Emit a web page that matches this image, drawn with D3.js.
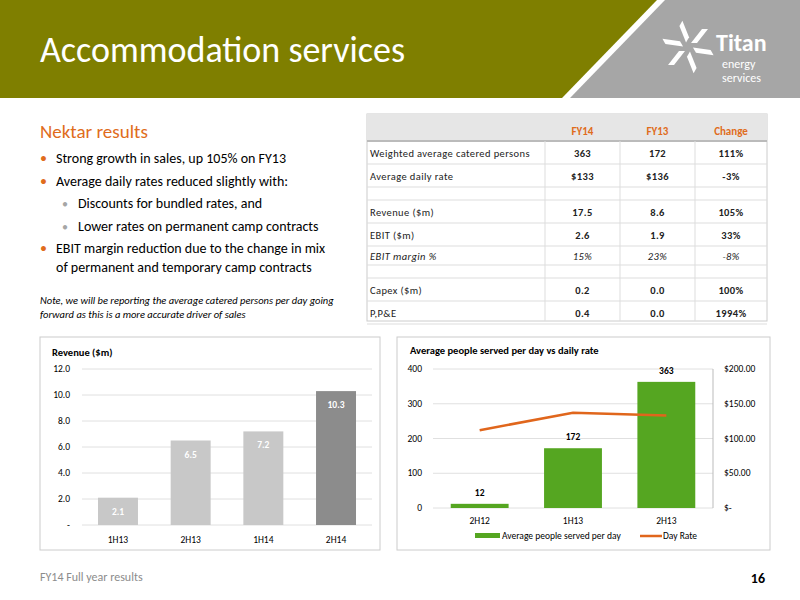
<!DOCTYPE html><html><head><meta charset="utf-8">
<script src="https://cdn.jsdelivr.net/npm/d3@7"></script>
<style>body{margin:0;}svg{display:block;font-family:Calibri,Carlito,"Open Sans",sans-serif;}</style></head><body>
<script>
const revCats=["1H13","2H13","1H14","2H14"];
const revVals=[2.1,6.5,7.2,10.3];
const revTicks=[0,2,4,6,8,10,12];
const pplCats=["2H12","1H13","2H13"];
const pplVals=[12,172,363];
const rateVals=[112,137,133];
const tblHead=["FY14","FY13","Change"];
const tblRows=[["Weighted average catered persons","363","172","111%"],["Average daily rate","$133","$136","-3%"],["","","",""],["Revenue ($m)","17.5","8.6","105%"],["EBIT ($m)","2.6","1.9","33%"],["EBIT margin %","15%","23%","-8%"],["","","",""],["Capex ($m)","0.2","0.0","100%"],["P,P&E","0.4","0.0","1994%"]];
const bullets=[[0,"Strong growth in sales, up 105% on FY13"],[0,"Average daily rates reduced slightly with:"],[1,"Discounts for bundled rates, and"],[1,"Lower rates on permanent camp contracts"],[0,"EBIT margin reduction due to the change in mix"],[2,"of permanent and temporary camp contracts"]];

const svg=d3.select("body").append("svg").attr("width",800).attr("height",600);
svg.append("rect").attr("width",800).attr("height",600).attr("fill","#fff");
svg.append("rect").attr("width",800).attr("height",98).attr("fill","#a6a6a6");
svg.append("path").attr("d","M0,0H665L570,98H0Z").attr("fill","#fff");
svg.append("path").attr("d","M0,0H657L562,98H0Z").attr("fill","#7f7f00");
svg.append("text").attr("x",40).attr("y",62).attr("fill","#fff").attr("font-size",36).text("Accommodation services");
const lg=svg.append("g").attr("transform","translate(688,47)").attr("fill","#fff");
for(let i=0;i<6;i++)lg.append("path").attr("d","M3,-4L14,-18L20,-18L9,-4Z").attr("transform",`rotate(${i*60})`);
svg.append("text").attr("x",716).attr("y",51).attr("fill","#fff").attr("font-size",24).attr("font-weight","bold").text("Titan");
svg.append("text").attr("x",722).attr("y",68).attr("fill","#fff").attr("font-size",12).text("energy");
svg.append("text").attr("x",722).attr("y",82).attr("fill","#fff").attr("font-size",12).text("services");
svg.append("text").attr("x",40).attr("y",138).attr("fill","#e06c1c").attr("font-size",19).text("Nektar results");
bullets.forEach((b,i)=>{const y=163+i*22.5;const t=b[0];
 if(t==0)svg.append("text").attr("x",40).attr("y",y).attr("fill","#e06c1c").attr("font-size",14).text("•");
 if(t==1)svg.append("text").attr("x",62).attr("y",y).attr("fill","#a6a6a6").attr("font-size",12).text("•");
 svg.append("text").attr("x",t==1?78:56).attr("y",t==2?y-4:y).attr("fill","#000").attr("font-size",14).text(b[1]);});
svg.append("text").attr("x",40).attr("y",304).attr("font-size",10.5).attr("font-style","italic").text("Note, we will be reporting the average catered persons per day going");
svg.append("text").attr("x",40).attr("y",318).attr("font-size",10.5).attr("font-style","italic").text("forward as this is a more accurate driver of sales");
const tx=[367,545,620,695,767];
svg.append("rect").attr("x",367).attr("y",114).attr("width",400).attr("height",207).attr("fill","#fff").attr("stroke","#ccc");
svg.append("rect").attr("x",367).attr("y",114).attr("width",400).attr("height",27).attr("fill","#e6e6e6");
tblHead.forEach((h,i)=>svg.append("text").attr("x",(tx[i+1]+tx[i+2])/2).attr("y",135).attr("text-anchor","middle").attr("fill","#e06c1c").attr("font-size",11).attr("font-weight","bold").text(h));
const rh=[23,23,13,23,23,19,13,23,23];let ry=141;
svg.append("line").attr("x1",367).attr("x2",767).attr("y1",141).attr("y2",141).attr("stroke","#bbb").attr("stroke-width",2);
tblRows.forEach((r,i)=>{const h=rh[i];
 r.forEach((c,j)=>svg.append("text").attr("x",j==0?370:(tx[j]+tx[j+1])/2).attr("y",ry+h/2+4).attr("text-anchor",j==0?"start":"middle").attr("font-size",10.5).attr("letter-spacing",0.4).attr("font-style",i==5?"italic":null).attr("font-weight",j>0&&i!=5?"bold":null).attr("fill","#222").text(c));
 ry+=h;svg.append("line").attr("x1",367).attr("x2",767).attr("y1",ry).attr("y2",ry).attr("stroke","#ddd");});
[1,2,3].forEach(j=>svg.append("line").attr("x1",tx[j]).attr("x2",tx[j]).attr("y1",141).attr("y2",321).attr("stroke","#ddd"));
svg.append("rect").attr("x",40).attr("y",337).attr("width",340).attr("height",213).attr("fill","#fff").attr("stroke","#ccc");
svg.append("text").attr("x",52).attr("y",356).attr("font-size",10.5).attr("font-weight","bold").text("Revenue ($m)");
const x1=d3.scaleBand().domain(revCats).range([82,372]).paddingInner(0.45).paddingOuter(0.22);
const y1=d3.scaleLinear().domain([0,12]).range([525,369]);
svg.append("g").selectAll("line").data(revTicks).join("line").attr("x1",82).attr("x2",372).attr("y1",d=>y1(d)).attr("y2",d=>y1(d)).attr("stroke","#e0e0e0");
svg.append("g").selectAll("text").data(revTicks).join("text").attr("x",70).attr("y",d=>y1(d)+3).attr("text-anchor","end").attr("font-size",9.5).text(d=>d==0?"-":d.toFixed(1));
svg.append("g").selectAll("rect").data(revVals).join("rect").attr("x",(d,i)=>x1(revCats[i])).attr("width",x1.bandwidth()).attr("y",d=>y1(d)).attr("height",d=>y1(0)-y1(d)).attr("fill",(d,i)=>i==3?"#8c8c8c":"#c8c8c8");
svg.append("g").selectAll("text").data(revVals).join("text").attr("x",(d,i)=>x1(revCats[i])+x1.bandwidth()/2).attr("y",d=>y1(d)+17).attr("text-anchor","middle").attr("fill","#fff").attr("font-size",9.5).attr("font-weight","bold").text(d=>d.toFixed(1));
svg.append("g").selectAll("text").data(revCats).join("text").attr("x",d=>x1(d)+x1.bandwidth()/2).attr("y",543).attr("text-anchor","middle").attr("font-size",9.5).text(d=>d);
svg.append("rect").attr("x",397).attr("y",337).attr("width",373).attr("height",213).attr("fill","#fff").attr("stroke","#ccc");
svg.append("text").attr("x",410).attr("y",354).attr("font-size",10.5).attr("font-weight","bold").text("Average people served per day vs daily rate");
const x2=d3.scaleBand().domain(pplCats).range([433,713]).paddingInner(0.38).paddingOuter(0.19);
const y2=d3.scaleLinear().domain([0,400]).range([508,369]);
const y3=d3.scaleLinear().domain([0,200]).range([508,369]);
svg.append("g").selectAll("line").data(y2.ticks(4)).join("line").attr("x1",433).attr("x2",713).attr("y1",d=>y2(d)).attr("y2",d=>y2(d)).attr("stroke","#e0e0e0");
svg.append("g").selectAll("text").data(y2.ticks(4)).join("text").attr("x",422).attr("y",d=>y2(d)+3).attr("text-anchor","end").attr("font-size",9.5).text(d=>d);
svg.append("g").selectAll("text").data(y3.ticks(4)).join("text").attr("x",724).attr("y",d=>y3(d)+3).attr("font-size",9.5).text(d=>d==0?"$-":"$"+d.toFixed(2));
svg.append("line").attr("x1",713).attr("x2",713).attr("y1",369).attr("y2",508).attr("stroke","#bbb");
svg.append("g").selectAll("rect").data(pplVals).join("rect").attr("x",(d,i)=>x2(pplCats[i])).attr("width",x2.bandwidth()).attr("y",d=>y2(d)).attr("height",d=>y2(0)-y2(d)).attr("fill","#55a621");
svg.append("g").selectAll("text").data(pplVals).join("text").attr("x",(d,i)=>x2(pplCats[i])+x2.bandwidth()/2).attr("y",d=>y2(d)-8).attr("text-anchor","middle").attr("font-size",9.5).attr("font-weight","bold").text(d=>d);
svg.append("path").datum(rateVals).attr("fill","none").attr("stroke","#e0661c").attr("stroke-width",2.5).attr("d",d3.line().x((d,i)=>x2(pplCats[i])+x2.bandwidth()/2).y(d=>y3(d)));
svg.append("g").selectAll("text").data(pplCats).join("text").attr("x",d=>x2(d)+x2.bandwidth()/2).attr("y",524).attr("text-anchor","middle").attr("font-size",9.5).text(d=>d);
svg.append("rect").attr("x",475).attr("y",533).attr("width",25).attr("height",5).attr("fill","#55a621");
svg.append("text").attr("x",502).attr("y",539).attr("font-size",9.5).text("Average people served per day");
svg.append("line").attr("x1",640).attr("x2",662).attr("y1",536).attr("y2",536).attr("stroke","#e0661c").attr("stroke-width",2.5);
svg.append("text").attr("x",663).attr("y",539).attr("font-size",9.5).text("Day Rate");
svg.append("text").attr("x",40).attr("y",581).attr("fill","#8c8c8c").attr("font-size",12).text("FY14 Full year results");
svg.append("text").attr("x",765).attr("y",583).attr("text-anchor","end").attr("font-size",14).attr("font-weight","bold").text("16");
</script></body></html>
